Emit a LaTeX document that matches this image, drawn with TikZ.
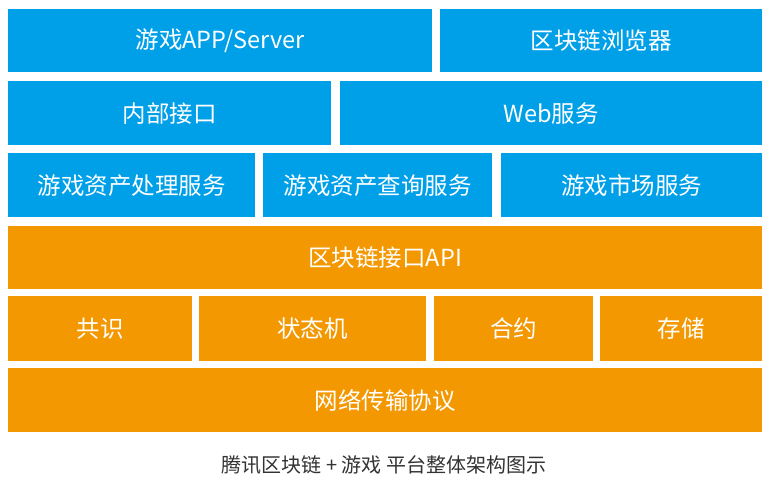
\documentclass[tikz,border=0pt]{standalone}
\usepackage{fontspec}
\setmainfont{Noto Sans CJK SC}
\usetikzlibrary{positioning}
\definecolor{skyblue}{HTML}{00A0E9}
\definecolor{amber}{HTML}{F39800}
\definecolor{capgray}{HTML}{333333}
\tikzset{
    layer/.style={anchor=north west, inner sep=0pt, text=white,
        font=\fontsize{23.5}{26}\selectfont},
    top/.style={layer, fill=skyblue},
    chain/.style={layer, fill=amber},
}

\begin{document}
\begin{tikzpicture}[x=1pt,y=-1pt]
    \useasboundingbox[fill=white] (0,0) rectangle (768,482);
    % application layer
    \node[top, minimum width=424pt, minimum height=63pt] (app) at (8,9) {游戏APP/Server};
    \node[top, minimum width=322pt, minimum height=63pt] (browser) at (440,9) {区块链浏览器};
    \node[top, minimum width=323pt, minimum height=64pt] (inner) at (8,81) {内部接口};
    \node[top, minimum width=422pt, minimum height=64pt] (web) at (340,81) {Web服务};
    \node[top, minimum width=247pt, minimum height=64pt] (handle) at (8,153) {游戏资产处理服务};
    \node[top, minimum width=229pt, minimum height=64pt] (query) at (263,153) {游戏资产查询服务};
    \node[top, minimum width=261pt, minimum height=64pt] (market) at (501,153) {游戏市场服务};
    % blockchain layer
    \node[chain, minimum width=754pt, minimum height=63pt] (api) at (8,226) {区块链接口API};
    \node[chain, minimum width=184pt, minimum height=65pt] (consensus) at (8,296) {共识};
    \node[chain, minimum width=227pt, minimum height=65pt] (state) at (199,296) {状态机};
    \node[chain, minimum width=159pt, minimum height=65pt] (contract) at (434,296) {合约};
    \node[chain, minimum width=162pt, minimum height=65pt] (storage) at (600,296) {存储};
    \node[chain, minimum width=754pt, minimum height=64pt] (net) at (8,368) {网络传输协议};
    \node[text=capgray, font=\fontsize{20}{22}\selectfont] (caption) at (384,465)
        {腾讯区块链 + 游戏 平台整体架构图示};
\end{tikzpicture}
\end{document}
